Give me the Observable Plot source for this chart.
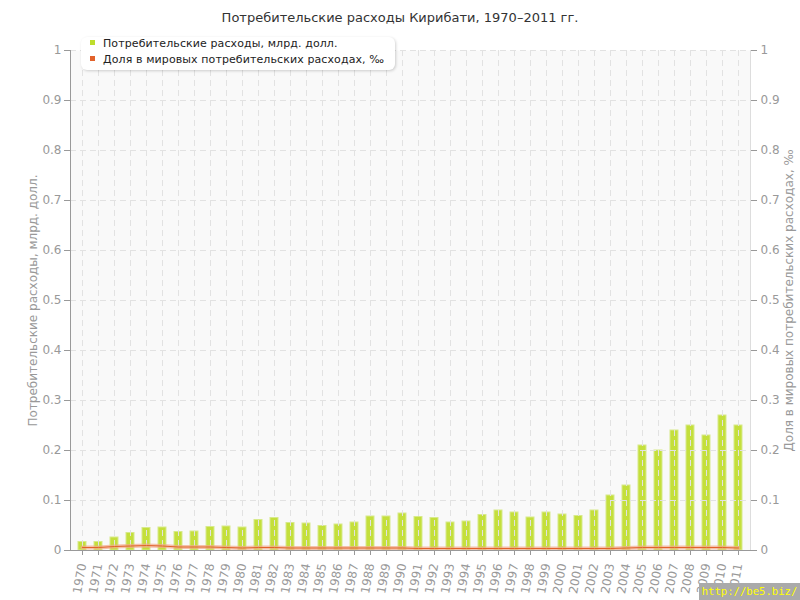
<!DOCTYPE html>
<html>
<head>
<meta charset="utf-8">
<script src="https://cdn.jsdelivr.net/npm/d3@7"></script>
<script src="https://cdn.jsdelivr.net/npm/@observablehq/plot@0.6"></script>
<style>
  html, body { margin: 0; padding: 0; background: #fff; }
  #wrap { position: relative; width: 800px; height: 600px; font-family: "DejaVu Sans", sans-serif; overflow: hidden; }
  #title { position: absolute; top: 10px; left: 0; width: 800px; text-align: center; font-size: 13px; color: #333; }
  #legend { position: absolute; left: 81px; top: 37px; width: 314px; height: 33px; background: #fff; border-radius: 6px;
            box-shadow: 1px 1px 3px rgba(0,0,0,0.18); font-size: 11px; letter-spacing: 0.1px; color: #222; z-index: 2; }
  .li { position: absolute; left: 9px; height: 14px; line-height: 14px; white-space: nowrap; }
  .sw { display: inline-block; width: 5px; height: 5px; margin-right: 8px; vertical-align: 2px; }
  #wm { position: absolute; right: 0; bottom: 0; width: 101px; height: 17px; background: #aaa; color: #ffff00;
        font-family: "DejaVu Sans Mono", monospace; font-size: 10.6px; line-height: 17px; text-align: center;
        white-space: nowrap; z-index: 2; }
  #chart { position: absolute; left: 0; top: 0; }
</style>
</head>
<body>
<div id="wrap">
  <div id="chart"></div>
  <div id="title">Потребительские расходы Кирибати, 1970–2011 гг.</div>
  <div id="legend">
    <div class="li" style="top:0px;"><span class="sw" style="background:#bedd2c"></span>Потребительские расходы, млрд. долл.</div>
    <div class="li" style="top:16px;"><span class="sw" style="background:#e2622b"></span>Доля в мировых потребительских расходах, ‰</div>
  </div>
  <div id="wm">http://be5.biz/</div>
</div>
<script>
const years = [1970,1971,1972,1973,1974,1975,1976,1977,1978,1979,1980,1981,1982,1983,1984,1985,1986,1987,1988,1989,1990,
               1991,1992,1993,1994,1995,1996,1997,1998,1999,2000,2001,2002,2003,2004,2005,2006,2007,2008,2009,2010,2011];
const spending = [0.017,0.017,0.026,0.035,0.045,0.046,0.037,0.038,0.047,0.048,0.046,0.061,0.065,0.055,0.054,0.049,0.052,0.056,0.068,0.068,0.074,
                  0.067,0.065,0.056,0.058,0.071,0.080,0.076,0.066,0.076,0.072,0.069,0.080,0.110,0.130,0.210,0.200,0.240,0.250,0.230,0.270,0.250];
const share = [0.006,0.006,0.008,0.009,0.010,0.009,0.007,0.007,0.007,0.006,0.005,0.006,0.006,0.005,0.005,0.005,0.005,0.005,0.005,0.005,0.005,
               0.004,0.004,0.004,0.004,0.004,0.004,0.004,0.004,0.004,0.004,0.004,0.004,0.004,0.005,0.006,0.006,0.006,0.006,0.006,0.006,0.005];
const yTicks = [0,0.1,0.2,0.3,0.4,0.5,0.6,0.7,0.8,0.9,1];
const leftLabel = "Потребительские расходы, млрд. долл.";
const rightLabel = "Доля в мировых потребительских расходах, ‰";

const data = years.map((y, i) => ({year: y, spend: spending[i], share: share[i]}));
const fmt = d => String(+d.toFixed(1));

const chart = Plot.plot({
  width: 800,
  height: 600,
  marginLeft: 70,
  marginRight: 50,
  marginTop: 50,
  marginBottom: 50,
  style: {fontFamily: "DejaVu Sans, sans-serif", background: "transparent", overflow: "visible"},
  x: {type: "band", domain: years, padding: 0.5},
  y: {domain: [0, 1]},
  marks: [
    Plot.frame({fill: "#f9f9f9", stroke: null}),
    Plot.barY(data, {x: "year", y: "spend", fill: "#c4df3c", stroke: "#d7ea8a", strokeWidth: 1, inset: 0}),
    Plot.gridX(years, {stroke: "#e2e2e2", strokeOpacity: 1, strokeDasharray: "6,4"}),
    Plot.gridY(yTicks, {stroke: "#e2e2e2", strokeOpacity: 1, strokeDasharray: "6,4"}),
    Plot.lineY(data, {x: "year", y: "share", stroke: "#f2a98a", strokeWidth: 4, strokeOpacity: 0.7}),
    Plot.lineY(data, {x: "year", y: "share", stroke: "#e2622b", strokeWidth: 1}),
    Plot.frame({anchor: "right", stroke: "#ddd"}),
    Plot.frame({anchor: "left", stroke: "#999"}),
    Plot.frame({anchor: "bottom", stroke: "#999"}),
    Plot.axisY({anchor: "left", ticks: yTicks, tickFormat: fmt, tickSize: 6, tickPadding: 3,
                color: "#999", fontSize: 12, label: leftLabel, labelAnchor: "center", labelOffset: 42, labelArrow: "none"}),
    Plot.axisY({anchor: "right", ticks: yTicks, tickFormat: fmt, tickSize: 6, tickPadding: 4,
                color: "#999", fontSize: 12, label: rightLabel, labelAnchor: "center", labelOffset: 42, labelArrow: "none"}),
    Plot.axisX({anchor: "bottom", tickRotate: -80, tickSize: 5, tickPadding: 8, color: "#999", fontSize: 12,
                tickFormat: d => String(d), label: null})
  ]
});
document.getElementById("chart").appendChild(chart);
</script>
</body>
</html>
